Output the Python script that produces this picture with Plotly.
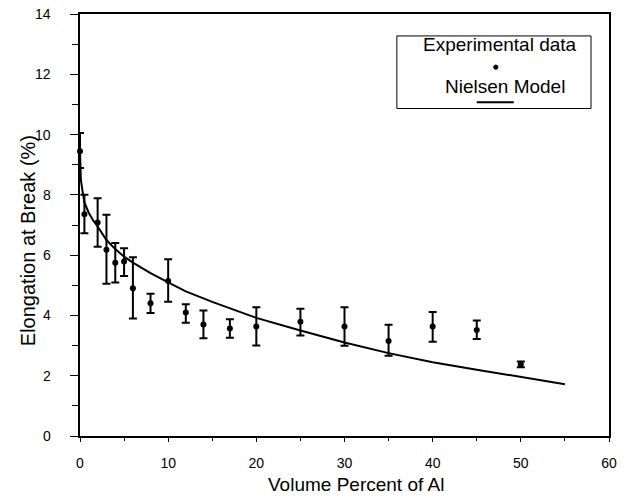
import plotly.graph_objects as go

# Experimental data
vol = [0, 0.5, 2, 3, 4, 5, 6, 8, 10, 12, 14, 17, 20, 25, 30, 35, 40, 45, 50]
elong = [9.45, 7.36, 7.08, 6.18, 5.75, 5.79, 4.9, 4.4, 5.14, 4.1, 3.7, 3.57, 3.63, 3.79, 3.63, 3.15, 3.63, 3.52, 2.38]
upper = [10.05, 8.0, 7.89, 7.34, 6.4, 6.23, 5.93, 4.72, 5.86, 4.37, 4.16, 3.87, 4.27, 4.22, 4.27, 3.69, 4.11, 3.83, 2.47]
lower = [8.89, 6.73, 6.28, 5.05, 5.09, 5.31, 3.9, 4.08, 4.45, 3.76, 3.24, 3.26, 3.0, 3.33, 2.99, 2.66, 3.13, 3.22, 2.28]

# Nielsen model curve
model_x = [0, 0.1, 0.25, 0.5, 1, 1.5, 2, 3, 4, 5, 6, 8, 10, 12, 15, 20, 25, 30, 35, 40, 45, 50, 55]
model_y = [9.45, 8.5, 8.2, 7.75, 7.4, 7.15, 6.95, 6.5, 6.2, 5.95, 5.75, 5.4, 5.1, 4.8, 4.45, 3.92, 3.5, 3.1, 2.75, 2.45, 2.2, 1.96, 1.72]

x_ticks = [0, 10, 20, 30, 40, 50, 60]
y_ticks = [0, 2, 4, 6, 8, 10, 12, 14]

err_plus = [u - e for u, e in zip(upper, elong)]
err_minus = [e - l for e, l in zip(elong, lower)]

FONT = "Liberation Sans, Arial, Helvetica, sans-serif"

fig = go.Figure()
fig.add_trace(go.Scatter(
    x=model_x, y=model_y, mode="lines",
    line=dict(color="black", width=2),
    showlegend=False, cliponaxis=False, name="Nielsen Model"))
fig.add_trace(go.Scatter(
    x=vol, y=elong, mode="markers",
    marker=dict(color="black", size=6),
    error_y=dict(type="data", symmetric=False, array=err_plus, arrayminus=err_minus,
                 color="black", thickness=2, width=4),
    showlegend=False, cliponaxis=False, name="Experimental data"))

axis_common = dict(
    showline=True, linecolor="black", linewidth=2, mirror=True, automargin=False,
    showgrid=False, zeroline=False, ticks="outside", tickcolor="black",
    ticklabeloverflow="allow",
)
fig.update_xaxes(
    range=[0, 60], tickvals=x_ticks, ticklen=4, tickwidth=1,
    minor=dict(dtick=5, ticklen=3, ticks="outside", tickcolor="black"),
    ticklabelstandoff=9,
    tickfont=dict(family=FONT, size=14, color="black"),
    **axis_common)
fig.update_yaxes(
    range=[0, 14], tickvals=y_ticks, ticklen=8, tickwidth=1,
    minor=dict(dtick=1, ticklen=6, ticks="outside", tickcolor="black"),
    showticklabels=False,
    **axis_common)

# Y tick labels placed at the axis values
for v in y_ticks:
    fig.add_annotation(xref="paper", yref="y", x=-0.051, y=v, text=str(v),
                       xanchor="right", yanchor="middle", showarrow=False,
                       font=dict(family=FONT, size=14, color="black"))

# Axis titles
fig.add_annotation(xref="paper", yref="paper", x=0.522, y=-0.116, text="Volume Percent of Al",
                   xanchor="center", yanchor="middle", showarrow=False,
                   font=dict(family=FONT, size=19, color="black"))
fig.add_annotation(xref="paper", yref="paper", x=-0.098, y=0.462, text="Elongation at Break (%)",
                   textangle=-90, xanchor="center", yanchor="middle", showarrow=False,
                   font=dict(family=FONT, size=20, color="black"))

# Legend box
fig.add_shape(type="rect", xref="paper", yref="paper", x0=0.599, x1=0.966, y0=0.776, y1=0.948,
              line=dict(color="black", width=1), fillcolor="white", layer="below")
fig.add_annotation(xref="paper", yref="paper", x=0.794, y=0.927, text="Experimental data",
                   xanchor="center", yanchor="middle",
                   showarrow=False, font=dict(family=FONT, size=19, color="black"))
fig.add_shape(type="circle", xref="paper", yref="paper", x0=0.782, x1=0.790, y0=0.869, y1=0.879,
              line=dict(color="black", width=1), fillcolor="black")
fig.add_annotation(xref="paper", yref="paper", x=0.803, y=0.829, text="Nielsen Model",
                   xanchor="center", yanchor="middle",
                   showarrow=False, font=dict(family=FONT, size=19, color="black"))
fig.add_shape(type="line", xref="paper", yref="paper", x0=0.750, x1=0.820, y0=0.791, y1=0.791,
              line=dict(color="black", width=2))

fig.update_layout(
    width=629, height=501,
    margin=dict(l=80, r=20, t=14, b=65),
    paper_bgcolor="white", plot_bgcolor="white",
    font=dict(family=FONT, color="black"),
)

fig.write_html("out.html", config={"displayModeBar": False},
               post_script="document.body.style.margin='0';")
